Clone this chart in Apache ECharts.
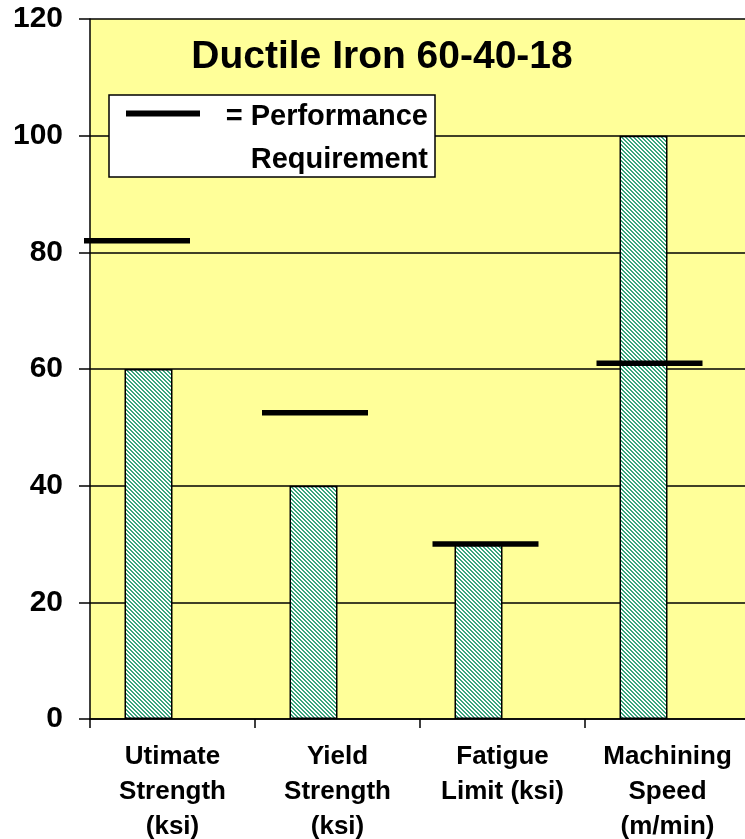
<!DOCTYPE html>
<html>
<head>
<meta charset="utf-8">
<script src="https://cdn.jsdelivr.net/npm/echarts@6/dist/echarts.min.js"></script>
<style>
  html, body { margin: 0; padding: 0; background: #fff; }
  #main { width: 745px; height: 839px; }
</style>
</head>
<body>
<div id="main"></div>
<script>
// 数据
var categories = ['Utimate\nStrength\n(ksi)', 'Yield\nStrength\n(ksi)', 'Fatigue\nLimit (ksi)', 'Machining\nSpeed\n(m/min)'];
var actualValues = [60, 40, 30, 100];
var requiredValues = [82, 52.5, 30, 61];
var yTicks = [0, 20, 40, 60, 80, 100, 120];

// 要求线相对类目中心的水平偏移（手绘线，位置不完全对齐）
var reqShift = [-35.5, -22.5, -17, -18];
var reqLen = 106;

var FONT = 'Arial, "Liberation Sans", sans-serif';

// 斜线填充
function makeHatch() {
    var size = 4;
    var c = document.createElement('canvas');
    c.width = size;
    c.height = size;
    var ctx = c.getContext('2d');
    ctx.fillStyle = '#ffffff';
    ctx.fillRect(0, 0, size, size);
    ctx.fillStyle = '#3aa67c';
    for (var y = 0; y < size; y++) {
        for (var x = 0; x < size; x++) {
            var d = ((x - y) % size + size) % size;
            if (d === 0 || d === 1) ctx.fillRect(x, y, 1, 1);
        }
    }
    return c;
}

var chart = echarts.init(document.getElementById('main'), null, { renderer: 'canvas' });

var option = {
    backgroundColor: '#ffffff',
    animation: false,
    grid: {
        left: 90,
        top: 19,
        width: 660,
        height: 700,
        outerBoundsMode: 'none',
        containLabel: false,
        show: true,
        backgroundColor: '#ffff99',
        borderWidth: 0
    },
    xAxis: {
        type: 'category',
        data: categories,
        axisLine: { lineStyle: { color: '#000', width: 1.5 } },
        axisTick: { show: true, length: 9, lineStyle: { color: '#000', width: 1.5 } },
        axisLabel: {
            color: '#000',
            fontFamily: FONT,
            fontWeight: 'bold',
            fontSize: 26,
            lineHeight: 35,
            margin: 20,
            interval: 0
        }
    },
    yAxis: {
        type: 'value',
        min: yTicks[0],
        max: yTicks[yTicks.length - 1],
        interval: 20,
        axisLine: { show: true, lineStyle: { color: '#000', width: 1.5 } },
        axisTick: { show: true, length: 11, lineStyle: { color: '#000', width: 1.5 } },
        splitLine: { show: true, lineStyle: { color: '#000', width: 1.5 } },
        axisLabel: {
            color: '#000',
            fontFamily: FONT,
            fontWeight: 'bold',
            fontSize: 30,
            margin: 27
        }
    },
    series: [{
        type: 'bar',
        data: actualValues,
        barWidth: 48,
        barGap: '0%',
        itemStyle: {
            color: { image: makeHatch(), repeat: 'repeat' },
            borderColor: '#000',
            borderWidth: 1.5
        },
        z: 2
    }, {
        // 占位，让实际值柱子靠在类目中心左侧
        type: 'bar',
        data: actualValues.map(function () { return '-'; }),
        barWidth: 48,
        barGap: '0%',
        silent: true
    }, {
        type: 'custom',
        data: requiredValues.map(function (v, i) { return [i, v]; }),
        renderItem: function (params, api) {
            var p = api.coord([api.value(0), api.value(1)]);
            var cx = p[0] + reqShift[params.dataIndex];
            return {
                type: 'line',
                shape: { x1: cx - reqLen / 2, y1: p[1], x2: cx + reqLen / 2, y2: p[1] },
                style: { stroke: '#000', lineWidth: 5.5 }
            };
        },
        z: 5
    }],
    graphic: [{
        type: 'text',
        x: 382,
        y: 57,
        style: {
            text: 'Ductile Iron 60-40-18',
            align: 'center',
            verticalAlign: 'middle',
            font: 'bold 39px ' + FONT,
            fill: '#000'
        },
        z: 10
    }, {
        type: 'rect',
        shape: { x: 109, y: 95, width: 326, height: 82 },
        style: { fill: '#ffffff', stroke: '#000', lineWidth: 1.5 },
        z: 10
    }, {
        type: 'line',
        shape: { x1: 126, y1: 113.5, x2: 200, y2: 113.5 },
        style: { stroke: '#000', lineWidth: 6 },
        z: 11
    }, {
        type: 'text',
        x: 428,
        y: 117,
        style: {
            text: '= Performance',
            align: 'right',
            verticalAlign: 'middle',
            font: 'bold 29px ' + FONT,
            fill: '#000'
        },
        z: 11
    }, {
        type: 'text',
        x: 428,
        y: 160,
        style: {
            text: 'Requirement',
            align: 'right',
            verticalAlign: 'middle',
            font: 'bold 29px ' + FONT,
            fill: '#000'
        },
        z: 11
    }]
};

chart.setOption(option);
</script>
</body>
</html>
